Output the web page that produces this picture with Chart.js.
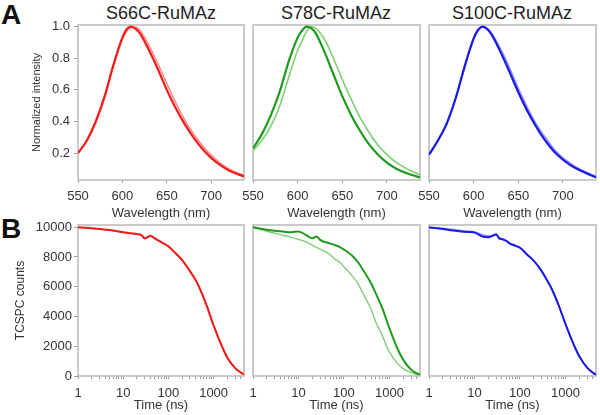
<!DOCTYPE html>
<html>
<head>
<meta charset="utf-8">
<script src="https://cdn.jsdelivr.net/npm/chart.js@4.4.0/dist/chart.umd.min.js"></script>
<style>
  body { margin: 0; width: 600px; height: 415px; background: #fff; position: relative; overflow: hidden; font-family: "Liberation Sans", Arial, sans-serif; }
  canvas { position: absolute; }
  .title { position: absolute; width: 200px; text-align: center; font-size: 18px; color: #222; top: 3px; }
  .letter { position: absolute; font-weight: bold; font-size: 28px; line-height: 1; color: #111; left: 1px; }
</style>
</head>
<body>
<div class="letter" style="top:1px">A</div>
<div class="letter" style="top:215px">B</div>
<div class="title" style="left:61px">S66C-RuMAz</div>
<div class="title" style="left:236px">S78C-RuMAz</div>
<div class="title" style="left:412px">S100C-RuMAz</div>

<canvas id="a1" width="250" height="222" style="left:0;top:0"></canvas>
<canvas id="a2" width="190" height="222" style="left:236px;top:0"></canvas>
<canvas id="a3" width="188" height="222" style="left:412px;top:0"></canvas>
<canvas id="b1" width="250" height="215" style="left:0;top:200px"></canvas>
<canvas id="b2" width="190" height="215" style="left:236px;top:200px"></canvas>
<canvas id="b3" width="188" height="215" style="left:412px;top:200px"></canvas>

<script>
// emission spectra (panel A)
const wavelengths = [550, 560, 570, 580, 590, 600, 605, 610, 615, 620, 630, 640, 650, 660, 670, 680, 690, 700, 710, 720, 730, 737];
const s66cDark  = [0.20, 0.28, 0.40, 0.56, 0.76, 0.93, 0.985, 1.0, 0.985, 0.955, 0.85, 0.73, 0.60, 0.485, 0.385, 0.30, 0.228, 0.17, 0.125, 0.09, 0.067, 0.053];
const s66cLight = [0.20, 0.28, 0.395, 0.55, 0.75, 0.92, 0.97, 0.995, 0.995, 0.975, 0.88, 0.765, 0.64, 0.52, 0.412, 0.322, 0.248, 0.187, 0.138, 0.10, 0.074, 0.06];
const s78cDark  = [0.23, 0.32, 0.44, 0.59, 0.78, 0.93, 0.975, 1.0, 0.99, 0.96, 0.84, 0.70, 0.56, 0.44, 0.34, 0.255, 0.19, 0.14, 0.103, 0.077, 0.058, 0.046];
const s78cLight = [0.215, 0.28, 0.37, 0.50, 0.68, 0.85, 0.91, 0.97, 0.998, 0.99, 0.92, 0.80, 0.665, 0.54, 0.425, 0.33, 0.25, 0.19, 0.143, 0.108, 0.08, 0.063];
const s100cDark  = [0.19, 0.28, 0.39, 0.55, 0.75, 0.925, 0.98, 1.0, 0.985, 0.95, 0.84, 0.715, 0.585, 0.468, 0.367, 0.28, 0.21, 0.158, 0.118, 0.088, 0.063, 0.047];
const s100cLight = [0.19, 0.28, 0.385, 0.545, 0.745, 0.92, 0.975, 0.998, 0.99, 0.96, 0.86, 0.74, 0.61, 0.49, 0.385, 0.30, 0.225, 0.17, 0.128, 0.095, 0.07, 0.052];

// TCSPC decays (panel B)
const times = [1, 1.5, 2, 3, 5, 7, 10, 15, 20, 25, 30, 35, 40, 50, 60, 80, 100, 150, 200, 300, 400, 500, 700, 1000, 1500, 2000, 3000, 4000, 4700];
const s66cDecayDark  = [10000, 9960, 9930, 9880, 9810, 9740, 9660, 9590, 9540, 9490, 9250, 9350, 9420, 9250, 9110, 8900, 8720, 8200, 7800, 7050, 6450, 5850, 4750, 3400, 2050, 1250, 530, 230, 110];
const s66cDecayLight = [9990, 9950, 9920, 9870, 9800, 9730, 9650, 9570, 9520, 9470, 9300, 9330, 9380, 9230, 9080, 8870, 8690, 8180, 7780, 7030, 6430, 5820, 4730, 3380, 2030, 1230, 520, 220, 100];
const s78cDecayDark  = [10000, 9900, 9830, 9760, 9690, 9660, 9720, 9460, 9260, 9370, 9150, 9040, 8990, 8900, 8830, 8680, 8500, 8100, 7680, 6850, 6200, 5550, 4550, 3200, 1850, 1100, 420, 180, 110];
const s78cDecayLight = [10000, 9850, 9730, 9600, 9430, 9320, 9180, 9000, 8800, 8640, 8530, 8430, 8340, 8150, 7920, 7650, 7350, 6750, 6250, 5200, 4450, 3650, 2700, 1600, 850, 500, 220, 100, 80];
const s100cDecayDark  = [9980, 9930, 9880, 9800, 9720, 9680, 9640, 9380, 9330, 9420, 9520, 9250, 9200, 9080, 8900, 8750, 8620, 8100, 7750, 7050, 6400, 5850, 4800, 3500, 2150, 1350, 560, 220, 90];
const s100cDecayLight = [10000, 9960, 9930, 9870, 9790, 9740, 9690, 9500, 9420, 9470, 9480, 9300, 9240, 9100, 8930, 8770, 8640, 8120, 7770, 7070, 6420, 5870, 4820, 3520, 2170, 1360, 570, 230, 95];

// tick labels
const wavelengthTicks = [550, 600, 650, 700];
const intensityTicks = [0.2, 0.4, 0.6, 0.8, 1.0];
const countTicks = [0, 2000, 4000, 6000, 8000, 10000];
const timeDecades = [1, 10, 100, 1000];

const textColor = '#333';
Chart.defaults.font.family = '"Liberation Sans", Arial, sans-serif';
Chart.defaults.color = textColor;

// minor ticks for the log axis
const timeTicks = [];
timeDecades.forEach(d => {
  for (let k = 1; k <= 9; k++) if (k * d <= 4700) timeTicks.push(k * d);
});

// grey box round each plot
const frame = {
  id: 'frame',
  beforeDatasetsDraw(chart) {
    const { ctx, chartArea: a } = chart;
    ctx.save();
    ctx.strokeStyle = '#bdbdbd';
    ctx.lineWidth = 1.6;
    ctx.strokeRect(a.left, a.top, a.right - a.left, a.bottom - a.top);
    ctx.restore();
  }
};

function line(xs, ys, color, width) {
  return {
    data: xs.map((x, i) => ({ x: x, y: ys[i] })),
    borderColor: color,
    borderWidth: width,
    pointRadius: 0,
    cubicInterpolationMode: 'monotone',
    fill: false
  };
}

function makePanel(id, datasets, spectrum, first, rightPad) {
  const xScale = spectrum ? {
    type: 'linear', min: 550, max: 737,
    afterBuildTicks: s => { s.ticks = wavelengthTicks.map(v => ({ value: v })); },
    afterFit: s => { s.height = 42; },
    ticks: { font: { size: 13 }, color: textColor, padding: 6, maxRotation: 0, autoSkip: false },
    title: { display: true, text: 'Wavelength (nm)', font: { size: 13 }, color: textColor, padding: { top: 0, bottom: 1 } }
  } : {
    type: 'logarithmic', min: 1, max: 4700,
    afterBuildTicks: s => { s.ticks = timeTicks.map(v => ({ value: v })); },
    afterFit: s => { s.height = 39; },
    ticks: {
      font: { size: 13 }, color: textColor, padding: 7, maxRotation: 0, autoSkip: false,
      callback: v => timeDecades.includes(v) ? String(v) : ''
    },
    title: { display: true, text: 'Time (ns)', font: { size: 13 }, color: textColor, padding: { top: 0, bottom: 2 } }
  };
  xScale.grid = { drawOnChartArea: false, drawTicks: true, tickLength: 3, color: '#999' };
  xScale.border = { display: false };

  const yScale = spectrum ? {
    min: 0.03, max: 1.01,
    afterBuildTicks: s => { s.ticks = intensityTicks.map(v => ({ value: v })); },
    ticks: { font: { size: 13 }, color: textColor, padding: 4, callback: v => v.toFixed(1) },
    title: { display: true, text: 'Normalized intensity', font: { size: 11 }, color: textColor, padding: { top: 30, bottom: 0 } }
  } : {
    min: 0, max: 10150,
    afterBuildTicks: s => { s.ticks = countTicks.map(v => ({ value: v })); },
    ticks: { font: { size: 13 }, color: textColor, padding: 2, callback: v => String(v) },
    title: { display: true, text: 'TCSPC counts', font: { size: 12 }, color: textColor, padding: { top: 13, bottom: 0 } }
  };
  yScale.display = first;
  if (first) yScale.afterFit = s => { s.width = 78; };
  yScale.grid = { drawOnChartArea: false, drawTicks: true, tickLength: 4, color: '#999' };
  yScale.border = { display: false };

  new Chart(document.getElementById(id), {
    type: 'line',
    data: { datasets: datasets },
    options: {
      responsive: false,
      animation: false,
      devicePixelRatio: 1,
      layout: { padding: { top: 25, left: first ? 0 : 17, right: rightPad, bottom: 0 } },
      plugins: { legend: { display: false }, tooltip: { enabled: false } },
      scales: { x: xScale, y: yScale }
    },
    plugins: [frame]
  });
}

makePanel('a1', [line(wavelengths, s66cDark, '#f01c1c', 2.2), line(wavelengths, s66cLight, '#ff8a8a', 1.6)], true, true, 6);
makePanel('a2', [line(wavelengths, s78cDark, '#1e9a1e', 2.2), line(wavelengths, s78cLight, '#7fcf74', 1.6)], true, false, 6);
makePanel('a3', [line(wavelengths, s100cDark, '#1a1ae6', 2.2), line(wavelengths, s100cLight, '#8a8af0', 1.6)], true, false, 4);
makePanel('b1', [line(times, s66cDecayDark, '#f01c1c', 2), line(times, s66cDecayLight, '#ff8a8a', 1.4)], false, true, 6);
makePanel('b2', [line(times, s78cDecayDark, '#1e9a1e', 2), line(times, s78cDecayLight, '#7fcf74', 1.4)], false, false, 6);
makePanel('b3', [line(times, s100cDecayDark, '#1a1ae6', 2), line(times, s100cDecayLight, '#8a8af0', 1.4)], false, false, 4);
</script>
</body>
</html>
